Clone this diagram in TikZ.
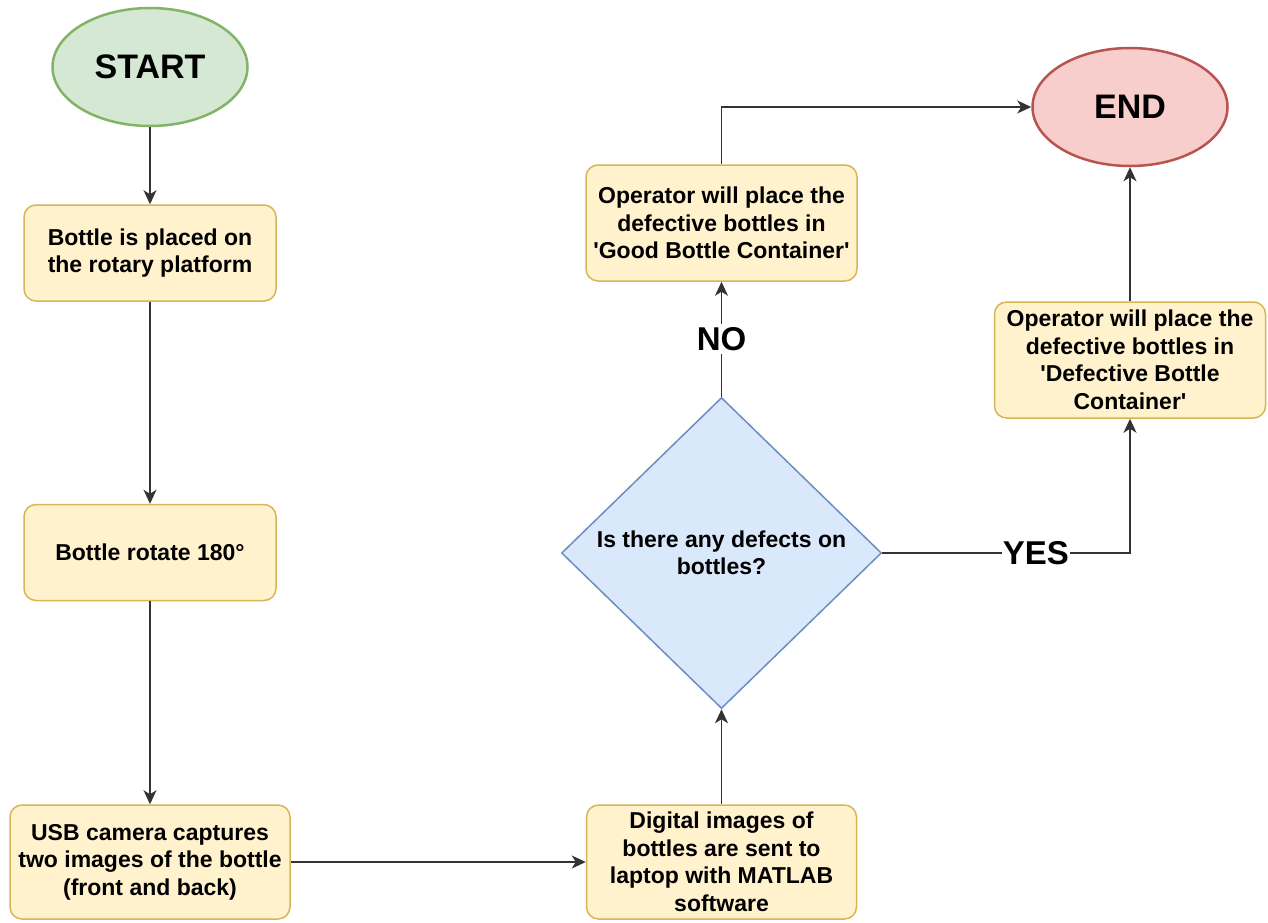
\documentclass[tikz,border=0pt]{standalone}
\usepackage{fontspec}
\setmainfont{Liberation Sans}
\usetikzlibrary{shapes.geometric,positioning,arrows.meta}

\definecolor{startfill}{HTML}{D5E8D4}
\definecolor{startline}{HTML}{82B366}
\definecolor{stepfill}{HTML}{FFF2CC}
\definecolor{stepline}{HTML}{D6B656}
\definecolor{askfill}{HTML}{DAE8FC}
\definecolor{askline}{HTML}{6C8EBF}
\definecolor{endfill}{HTML}{F8CECC}
\definecolor{endline}{HTML}{B85450}
\definecolor{wire}{HTML}{333333}

\begin{document}
\begin{tikzpicture}[x=1pt,y=1pt,->,>={Stealth[length=14pt,width=13pt,inset=4pt]},line width=1.3pt,
  every node/.style={font=\bfseries\fontsize{23}{27.5}\selectfont},
  term node/.style={ellipse,draw,line width=2.5pt,minimum width=195pt,minimum height=118pt,font=\bfseries\fontsize{34}{40}\selectfont},
  box node/.style={rectangle,rounded corners=12pt,draw=stepline,fill=stepfill,line width=1.5pt,align=center,inner sep=0pt,minimum width=252pt,minimum height=96pt},
  ask node/.style={diamond,draw=askline,fill=askfill,line width=1.5pt,align=center,inner sep=0pt,minimum width=320pt,minimum height=311pt},
  tag/.style={fill=white,text=black,font=\bfseries\fontsize{33}{40}\selectfont}]
   \useasboundingbox (0,0) rectangle (1268,-922);
   \node[term node,draw=startline,fill=startfill] (start) at (150,-67) {START};
   \node[box node] (place) [below=77pt of start] {Bottle is placed on\\the rotary platform};
   \node[box node] (rotate) [below=202pt of place] {Bottle rotate 180°};
   \node[box node,minimum width=280pt,minimum height=114pt] (capture) [below=203pt of rotate] {USB camera captures\\two images of the bottle\\(front and back)};
   \node[box node,minimum width=270pt,minimum height=114pt] (send) [right=295pt of capture] {Digital images of\\bottles are sent to\\laptop with MATLAB\\software};
   \node[ask node] (check) [above=95pt of send] {Is there any defects on\\bottles?};
   \node[box node,minimum width=271pt,minimum height=116pt] (good) [above=115pt of check] {Operator will place the\\defective bottles in\\\textquotesingle Good Bottle Container\textquotesingle};
   \node[term node,draw=endline,fill=endfill] (end) at (1130,-107) {END};
   \node[box node,minimum width=271pt,minimum height=116pt] (bad) [below=134pt of end] {Operator will place the\\defective bottles in\\\textquotesingle Defective Bottle\\Container\textquotesingle};
    \path[color=wire] 
    (start) edge (place)
    (place) edge (rotate)
    (rotate) edge (capture)
    (capture) edge (send)
    (send) edge (check)
    (check) edge node[tag] {NO} (good);
   \draw[color=wire] (good.north) |- (end.west);
   \draw[color=wire] (check.east) -| node[tag,pos=0.31,inner xsep=1pt] {YES} (bad.south);
   \draw[color=wire] (bad) -- (end);
\end{tikzpicture}
\end{document}
